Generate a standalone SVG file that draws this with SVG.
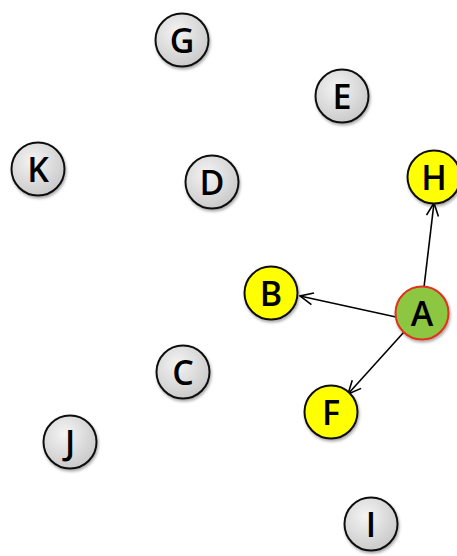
<svg xmlns="http://www.w3.org/2000/svg" width="457" height="556" viewBox="0 0 457 556">
<defs>
<radialGradient id="gray" cx="40%" cy="35%" r="70%">
<stop offset="0" stop-color="#f4f4f4"/>
<stop offset="1" stop-color="#c8c8c8"/>
</radialGradient>
<filter id="sh" x="-30%" y="-30%" width="160%" height="160%">
<feGaussianBlur in="SourceAlpha" stdDeviation="1.5"/>
<feOffset dx="1" dy="2" result="b"/>
<feComponentTransfer><feFuncA type="linear" slope="0.35"/></feComponentTransfer>
<feMerge><feMergeNode/><feMergeNode in="SourceGraphic"/></feMerge>
</filter>
<marker id="arr" markerWidth="16" markerHeight="16" viewBox="0 0 16 16" refX="15" refY="8" orient="auto" markerUnits="userSpaceOnUse">
<path d="M2,2 L15,8 L2,14" fill="none" stroke="#000" stroke-width="1.6"/>
</marker>
</defs>
<style>
.n circle{stroke:#111;stroke-width:2;filter:url(#sh)}
.g circle{fill:url(#gray)}
.y circle{fill:#ffff00}
.a circle{fill:#8dc63f;stroke:#e0301e}
text{font-family:"Open Sans","Liberation Sans",Arial,sans-serif;font-weight:600;font-size:34px;fill:#000;text-anchor:middle;dominant-baseline:central}
.e{stroke:#000;stroke-width:1.6;fill:none;marker-end:url(#arr)}
</style>
<rect width="457" height="556" fill="#fff"/>
<g id="edges">
<line class="e" x1="424" y1="287" x2="434" y2="203"/>
<line class="e" x1="396" y1="317" x2="300" y2="296"/>
<line class="e" x1="404" y1="332" x2="348" y2="394"/>
</g>
<g id="G" class="n g"><circle cx="182" cy="40" r="26.5"/><text x="182" y="40">G</text></g>
<g id="E" class="n g"><circle cx="342" cy="96" r="26.5"/><text x="342" y="96">E</text></g>
<g id="K" class="n g"><circle cx="38" cy="169" r="26.5"/><text x="38" y="169">K</text></g>
<g id="D" class="n g"><circle cx="212" cy="182" r="26.5"/><text x="212" y="182">D</text></g>
<g id="H" class="n y"><circle cx="434" cy="177" r="26.5"/><text x="434" y="177">H</text></g>
<g id="B" class="n y"><circle cx="271" cy="293" r="26.5"/><text x="271" y="293">B</text></g>
<g id="A" class="n a"><circle cx="422" cy="313" r="26.5"/><text x="422" y="313">A</text></g>
<g id="C" class="n g"><circle cx="183" cy="372" r="26.5"/><text x="183" y="372">C</text></g>
<g id="F" class="n y"><circle cx="331" cy="412" r="26.5"/><text x="331" y="412">F</text></g>
<g id="J" class="n g"><circle cx="70" cy="442" r="26.5"/><text x="70" y="442">J</text></g>
<g id="I" class="n g"><circle cx="371" cy="524" r="26.5"/><text x="371" y="524">I</text></g>
</svg>
